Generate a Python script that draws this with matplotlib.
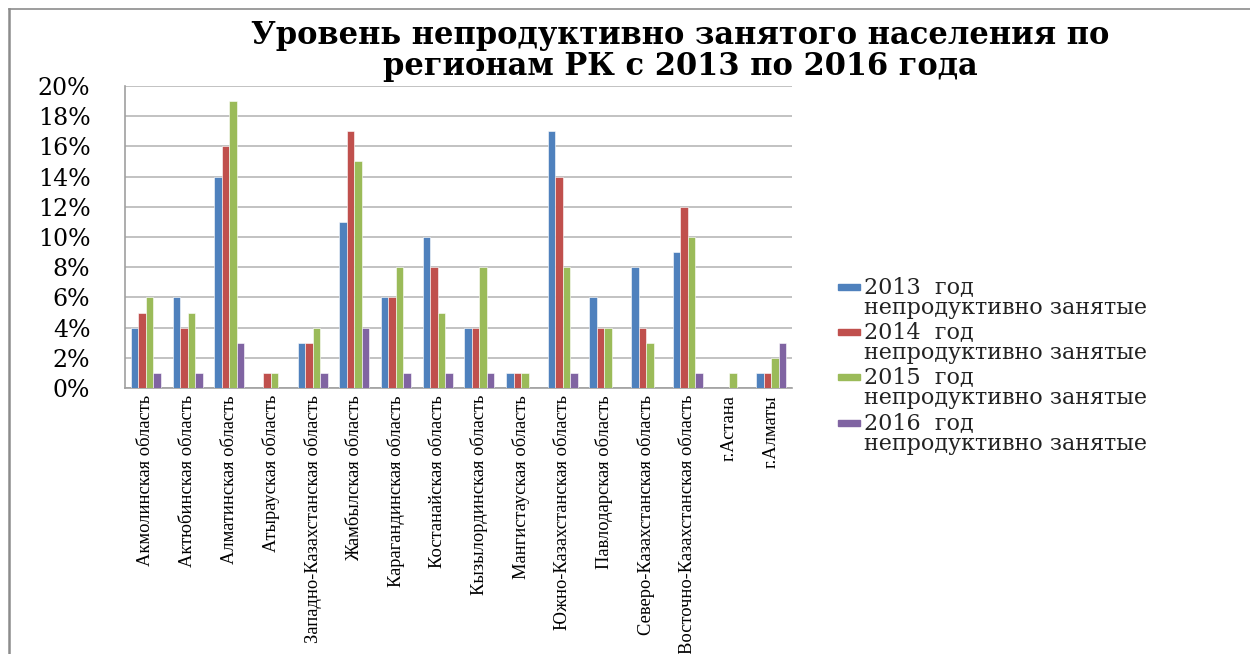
import matplotlib
matplotlib.use("Agg")
import matplotlib.pyplot as plt
import numpy as np
from matplotlib.lines import Line2D
from matplotlib.patches import Rectangle
from matplotlib.ticker import FuncFormatter

regions = ["Акмолинская область", "Актюбинская область", "Алматинская область",
           "Атырауская область", "Западно-Казахстанская область", "Жамбылская область",
           "Карагандинская область", "Костанайская область", "Кызылординская область",
           "Мангистауская область", "Южно-Казахстанская область", "Павлодарская область",
           "Северо-Казахстанская область", "Восточно-Казахстанская область",
           "г.Астана", "г.Алматы"]
v2013 = [4, 6, 14, 0, 3, 11, 6, 10, 4, 1, 17, 6, 8, 9, 0, 1]
v2014 = [5, 4, 16, 1, 3, 17, 6, 8, 4, 1, 14, 4, 4, 12, 0, 1]
v2015 = [6, 5, 19, 1, 4, 15, 8, 5, 8, 1, 8, 4, 3, 10, 1, 2]
v2016 = [1, 1, 3, 0, 1, 4, 1, 1, 1, 0, 1, 0, 0, 1, 0, 3]
series_years = ["2013  год", "2014  год", "2015  год", "2016  год"]
series_suffix = "непродуктивно занятые"
colors = ["#4F81BD", "#C0504D", "#9BBB59", "#8064A2"]
title = "Уровень непродуктивно занятого населения по\nрегионам РК с 2013 по 2016 года"

W, H = 1250, 654
fig = plt.figure(figsize=(W / 100, H / 100), dpi=100)
ax = fig.add_axes([125 / W, 1 - 388 / H, (792 - 125) / W, (388 - 86) / H])

x = np.arange(len(regions))
bw = 0.18
for i, (vals, c) in enumerate(zip([v2013, v2014, v2015, v2016], colors)):
    ax.bar(x + (i - 1.5) * bw, vals, width=bw, color=c, edgecolor="white",
           linewidth=0.4, zorder=3)

ax.set_xlim(-0.5, len(regions) - 0.5)
ax.set_ylim(0, 20)
ax.set_yticks(np.arange(0, 21, 2))
ax.yaxis.set_major_formatter(FuncFormatter(lambda v, p: f"{int(v)}%"))
ax.grid(axis="y", color="#bdbdbd", linewidth=1.3, zorder=0)
for s in ["top", "right"]:
    ax.spines[s].set_visible(False)
for s in ["left", "bottom"]:
    ax.spines[s].set_color("#a0a0a0")
    ax.spines[s].set_linewidth(1.2)
ax.tick_params(axis="y", length=0, pad=25, labelsize=17)
ax.tick_params(axis="x", length=0, pad=5)
for lab in ax.get_yticklabels():
    lab.set_fontfamily("DejaVu Serif")
ax.set_xticks(x)
ax.set_xticklabels(regions, rotation=90, fontfamily="Liberation Serif", fontsize=13.3,
                   va="top", ha="center")

fig.text(680 / W, 1 - 51 / H, title, ha="center", va="center", fontsize=22,
         fontweight="bold", fontfamily="DejaVu Serif", linespacing=0.98)

# legend (marker aligned with the first line of each entry, as in the reference)
leg_y = [287, 332, 377, 423]
for yy, c, yr in zip(leg_y, colors, series_years):
    fig.add_artist(Rectangle((838 / W, 1 - (yy + 3) / H), 22 / W, 6 / H,
                             transform=fig.transFigure, color=c))
    fig.text(864 / W, 1 - yy / H, yr, ha="left", va="center", fontsize=16,
             fontfamily="DejaVu Serif", color="#222222")
    fig.text(864 / W, 1 - (yy + 21) / H, series_suffix, ha="left", va="center",
             fontsize=16, fontfamily="DejaVu Serif", color="#222222")

# outer frame
fig.add_artist(Line2D([9 / W, 9 / W], [0, 1 - 9 / H], transform=fig.transFigure,
                      color="#8c8c8c", linewidth=1.8))
fig.add_artist(Line2D([9 / W, 1], [1 - 9 / H, 1 - 9 / H], transform=fig.transFigure,
                      color="#8c8c8c", linewidth=1.2))

fig.savefig("out.png", dpi=100)
